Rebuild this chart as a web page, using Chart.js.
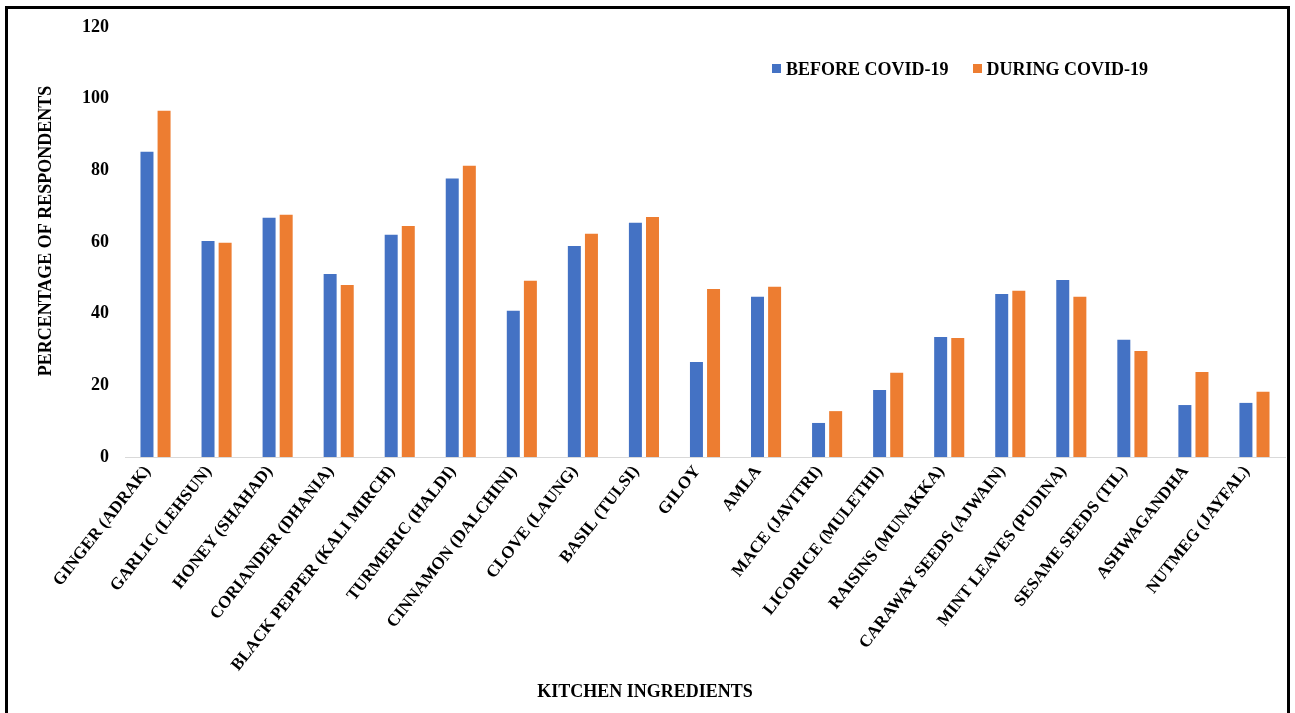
<!DOCTYPE html>
<html>
<head>
<meta charset="utf-8">
<script src="https://cdn.jsdelivr.net/npm/chart.js@4/dist/chart.umd.min.js"></script>
<style>
    html, body { margin: 0; padding: 0; background: #fff; }
    #wrap { position: relative; width: 1295px; height: 713px; overflow: hidden; }
    #frame { position: absolute; left: 5px; top: 6px; width: 1285px; height: 720px; border: 3px solid #000; box-sizing: border-box; pointer-events: none; }
    #legend { position: absolute; left: 772px; top: 59px; font: bold 18px "Liberation Serif", "Times New Roman", serif; color: #000; white-space: nowrap; }
    #legend span.item { margin-right: 24px; }
    #legend span.box { display: inline-block; width: 9px; height: 9px; margin-right: 5px; vertical-align: 2px; }
</style>
</head>
<body>
<div id="wrap">
    <canvas id="chart" width="1295" height="713"></canvas>
    <div id="legend"></div>
    <div id="frame"></div>
</div>
<script>
'use strict';

// Categories
const ingredients = [
    "GINGER (ADRAK)", "GARLIC (LEHSUN)", "HONEY (SHAHAD)", "CORIANDER (DHANIA)",
    "BLACK PEPPER (KALI MIRCH)", "TURMERIC (HALDI)", "CINNAMON (DALCHINI)", "CLOVE (LAUNG)",
    "BASIL (TULSI)", "GILOY", "AMLA", "MACE (JAVITRI)", "LICORICE (MULETHI)",
    "RAISINS (MUNAKKA)", "CARAWAY SEEDS (AJWAIN)", "MINT LEAVES (PUDINA)",
    "SESAME SEEDS (TIL)", "ASHWAGANDHA", "NUTMEG (JAYFAL)"
];

// Series values (percentage of respondents)
const beforeCovid = [85.2, 60.3, 66.8, 51.1, 62.0, 77.7, 40.8, 58.9, 65.4, 26.5, 44.7, 9.5, 18.7, 33.5, 45.5, 49.4, 32.7, 14.5, 15.1];
const duringCovid = [96.6, 59.8, 67.6, 48.0, 64.5, 81.3, 49.2, 62.3, 67.0, 46.9, 47.5, 12.8, 23.5, 33.2, 46.4, 44.7, 29.6, 23.7, 18.2];

// Axis settings
const yTicks = [0, 20, 40, 60, 80, 100, 120];
const seriesNames = ["BEFORE COVID-19", "DURING COVID-19"];
const seriesColors = ["#4472C4", "#ED7D31"];
const xTitle = "KITCHEN INGREDIENTS";
const yTitle = "PERCENTAGE OF RESPONDENTS";

const serif = "'Liberation Serif', 'Times New Roman', serif";

// Axis titles drawn relative to the whole picture, like the original
const axisTitles = {
    id: 'axisTitles',
    afterDraw(chart) {
        const ctx = chart.ctx;
        ctx.save();
        ctx.fillStyle = '#000';
        ctx.font = 'bold 18px ' + serif;
        ctx.textAlign = 'center';
        ctx.textBaseline = 'middle';
        ctx.fillText(xTitle, 645, 692);
        ctx.translate(46, 231);
        ctx.rotate(-Math.PI / 2);
        ctx.fillText(yTitle, 0, 0);
        ctx.restore();
    }
};

const chart = new Chart(document.getElementById('chart').getContext('2d'), {
    type: 'bar',
    data: {
        labels: ingredients,
        datasets: [{
            label: seriesNames[0],
            data: beforeCovid,
            backgroundColor: seriesColors[0]
        }, {
            label: seriesNames[1],
            data: duringCovid,
            backgroundColor: seriesColors[1]
        }]
    },
    plugins: [axisTitles],
    options: {
        responsive: false,
        animation: false,
        layout: {
            padding: { left: 30, right: 10, top: 27, bottom: 8 }
        },
        datasets: {
            bar: { categoryPercentage: 0.56, barPercentage: 0.76 }
        },
        plugins: {
            legend: { display: false },
            tooltip: { enabled: false }
        },
        scales: {
            x: {
                grid: { display: false, drawTicks: false },
                border: { display: true, color: '#d9d9d9', width: 1 },
                ticks: {
                    color: '#000',
                    font: { family: serif, size: 17, weight: 'bold' },
                    minRotation: 52,
                    maxRotation: 52,
                    autoSkip: false,
                    padding: 5,
                    labelOffset: -8
                },
                afterFit: (scale) => { scale.height = 248; }
            },
            y: {
                min: 0,
                max: 120,
                afterBuildTicks: (scale) => { scale.ticks = yTicks.map(v => ({ value: v })); },
                grid: { display: false, drawTicks: false },
                border: { display: false },
                ticks: {
                    color: '#000',
                    font: { family: serif, size: 18, weight: 'bold' },
                    padding: 16
                },
                afterFit: (scale) => { scale.width = 95; }
            }
        }
    }
});

// Build legend from datasets
let legendDiv = document.getElementById('legend');
chart.data.datasets.forEach((ds) => {
    let item = document.createElement('span');
    item.className = 'item';
    let box = document.createElement('span');
    box.className = 'box';
    box.style.background = ds.backgroundColor;
    item.appendChild(box);
    item.appendChild(document.createTextNode(ds.label));
    legendDiv.appendChild(item);
});
</script>
</body>
</html>
